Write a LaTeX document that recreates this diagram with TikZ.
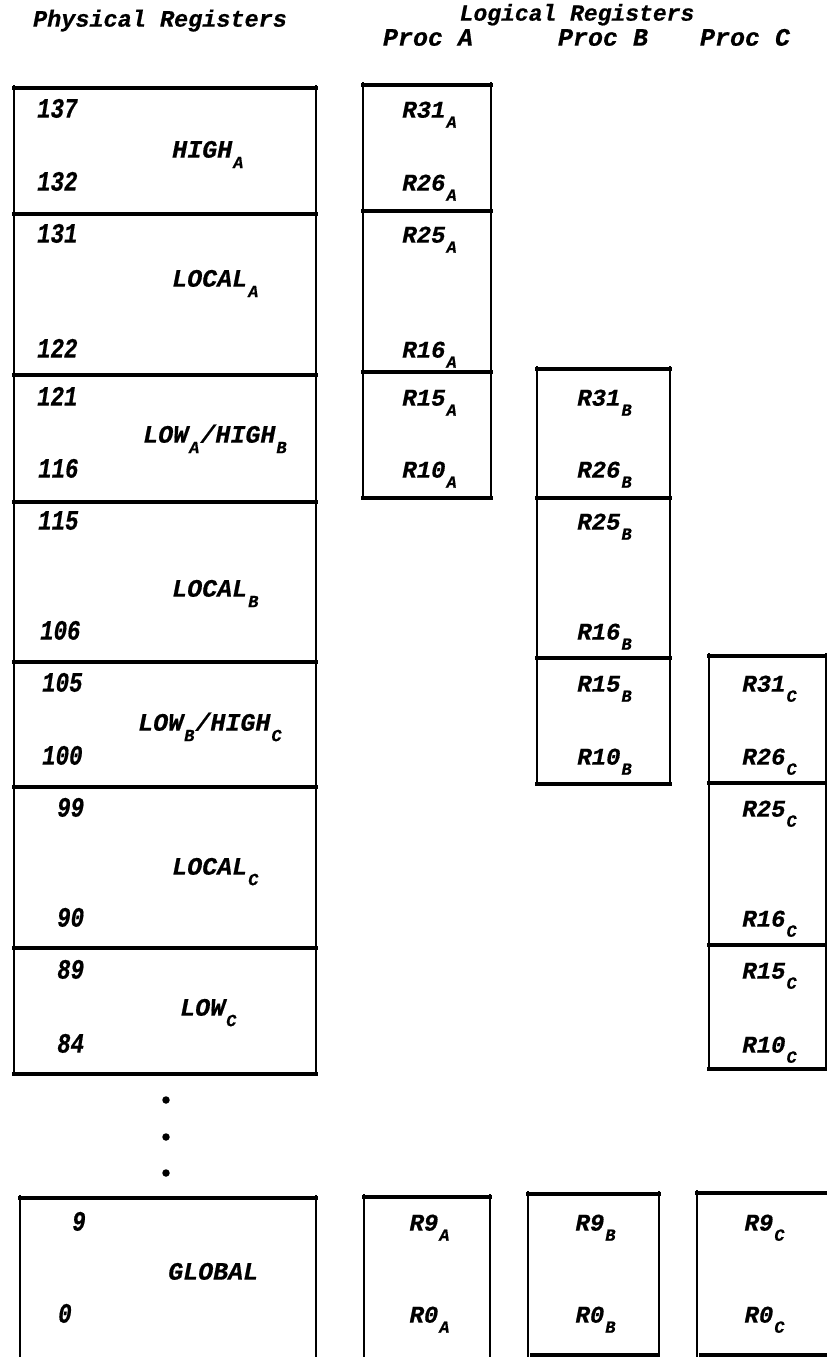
\documentclass[tikz,border=0pt]{standalone}
\usepackage{fontspec}
\setmainfont{Liberation Mono}[FakeBold=0.6]
\newfontfamily\numfont{Liberation Mono}[FakeStretch=0.8, FakeBold=0.6]
\newcommand\lsub[1]{\kern1pt\raisebox{-0.42em}{\fontsize{17}{17}\selectfont #1}\kern1pt}
\tikzset{
  vline/.style={line width=1.6pt},
  hline/.style={line width=3.2pt},
  title/.style={font=\fontsize{25}{25}\selectfont\bfseries\itshape, inner sep=0pt, anchor=mid},
  num/.style={font=\numfont\fontsize{28}{28}\selectfont\bfseries\itshape, inner sep=0pt, anchor=mid west},
  reg/.style={font=\fontsize{25}{25}\selectfont\bfseries\itshape, inner sep=0pt, anchor=mid west},
  lab/.style={font=\fontsize{24}{24}\selectfont\bfseries\itshape, inner sep=0pt, anchor=mid},
  dotm/.style={fill=black, circle, inner sep=0pt, minimum size=7.5pt},
}
\begin{document}
\begin{tikzpicture}[x=1pt, y=-1pt]
\useasboundingbox (0,0) rectangle (827,1357);

% titles
\node[title, font=\fontsize{23.5}{23.5}\selectfont\bfseries\itshape] (tphys) at (160,24) {Physical Registers};
\node[title, font=\fontsize{23}{23}\selectfont\bfseries\itshape] (tlog)  at (577,18) {Logical Registers};
\node[title] (tpa) at (428,43) {Proc A};
\node[title] (tpb) at (603,43) {Proc B};
\node[title] (tpc) at (745,43) {Proc C};

% physical register column
\draw[vline] (14,85) -- (14,1074);
\draw[vline] (316,85) -- (316,1074);
\foreach \y in {88,214,375,502,662,787,948,1074}
  \draw[hline] (12,\y) -- (318,\y);
% global physical
\draw[vline] (20,1195) -- (20,1357);
\draw[vline] (316,1195) -- (316,1357);
\draw[hline] (18,1198) -- (318,1198);

% numbers
\node[num] (n137) at (37,115) {137};
\node[num] (n132) at (37,188) {132};
\node[num] (n131) at (37,240) {131};
\node[num] (n122) at (37,355) {122};
\node[num] (n121) at (37,403) {121};
\node[num] (n116) at (38,475) {116};
\node[num] (n115) at (38,527) {115};
\node[num] (n106) at (40,637) {106};
\node[num] (n105) at (42,689) {105};
\node[num] (n100) at (42,762) {100};
\node[num] (n99) at (57,814) {99};
\node[num] (n90) at (57,924) {90};
\node[num] (n89) at (57,976) {89};
\node[num] (n84) at (57,1050) {84};
\node[num] (n9) at (72,1228) {9};
\node[num] (n0) at (58,1320) {0};

% region names
\node[reg] (highA) at (172,155) {HIGH\lsub{A}};
\node[reg] (localA) at (172,284) {LOCAL\lsub{A}};
\node[reg] (lowAhighB) at (143,440) {LOW\lsub{A}/HIGH\lsub{B}};
\node[reg] (localB) at (172,594) {LOCAL\lsub{B}};
\node[reg] (lowBhighC) at (138,728) {LOW\lsub{B}/HIGH\lsub{C}};
\node[reg] (localC) at (172,872) {LOCAL\lsub{C}};
\node[reg] (lowC) at (180,1013) {LOW\lsub{C}};
\node[reg] (global) at (168,1277) {GLOBAL};

% dots
\node[dotm] (d1) at (166,1100) {};
\node[dotm] (d2) at (166,1137) {};
\node[dotm] (d3) at (166,1173) {};

% Proc A logical
\draw[vline] (363,82) -- (363,498);
\draw[vline] (491,82) -- (491,498);
\foreach \y in {85,211,372,498}
  \draw[hline] (361,\y) -- (493,\y);
\node[lab] (r31a) at (430,115) {R31\lsub{A}};
\node[lab] (r26a) at (430,188) {R26\lsub{A}};
\node[lab] (r25a) at (430,240) {R25\lsub{A}};
\node[lab] (r16a) at (430,355) {R16\lsub{A}};
\node[lab] (r15a) at (430,403) {R15\lsub{A}};
\node[lab] (r10a) at (430,475) {R10\lsub{A}};

% Proc B logical
\draw[vline] (537,366) -- (537,784);
\draw[vline] (670,366) -- (670,784);
\foreach \y in {369,498,658,784}
  \draw[hline] (535,\y) -- (672,\y);
\node[lab] (r31b) at (605,403) {R31\lsub{B}};
\node[lab] (r26b) at (605,475) {R26\lsub{B}};
\node[lab] (r25b) at (605,527) {R25\lsub{B}};
\node[lab] (r16b) at (605,637) {R16\lsub{B}};
\node[lab] (r15b) at (605,689) {R15\lsub{B}};
\node[lab] (r10b) at (605,762) {R10\lsub{B}};

% Proc C logical
\draw[vline] (709,653) -- (709,1069);
\draw[vline] (826,653) -- (826,1069);
\foreach \y in {656,783,945,1069}
  \draw[hline] (707,\y) -- (827,\y);
\node[lab] (r31c) at (770,689) {R31\lsub{C}};
\node[lab] (r26c) at (770,762) {R26\lsub{C}};
\node[lab] (r25c) at (770,814) {R25\lsub{C}};
\node[lab] (r16c) at (770,924) {R16\lsub{C}};
\node[lab] (r15c) at (770,976) {R15\lsub{C}};
\node[lab] (r10c) at (770,1050) {R10\lsub{C}};

% global logical boxes
\draw[vline] (364,1194) -- (364,1357);
\draw[vline] (490,1194) -- (490,1357);
\draw[hline] (362,1197) -- (492,1197);
\draw[vline] (528,1191) -- (528,1357);
\draw[vline] (659,1191) -- (659,1357);
\draw[hline] (526,1194) -- (661,1194);
\draw[hline] (530,1355) -- (659,1355);
\draw[vline] (697,1190) -- (697,1357);
\draw[hline] (695,1193) -- (827,1193);
\draw[hline] (699,1355) -- (827,1355);
\node[lab] (r9a) at (430,1228) {R9\lsub{A}};
\node[lab] (r0a) at (430,1320) {R0\lsub{A}};
\node[lab] (r9b) at (596,1228) {R9\lsub{B}};
\node[lab] (r0b) at (596,1320) {R0\lsub{B}};
\node[lab] (r9c) at (765,1228) {R9\lsub{C}};
\node[lab] (r0c) at (765,1320) {R0\lsub{C}};
\end{tikzpicture}
\end{document}
